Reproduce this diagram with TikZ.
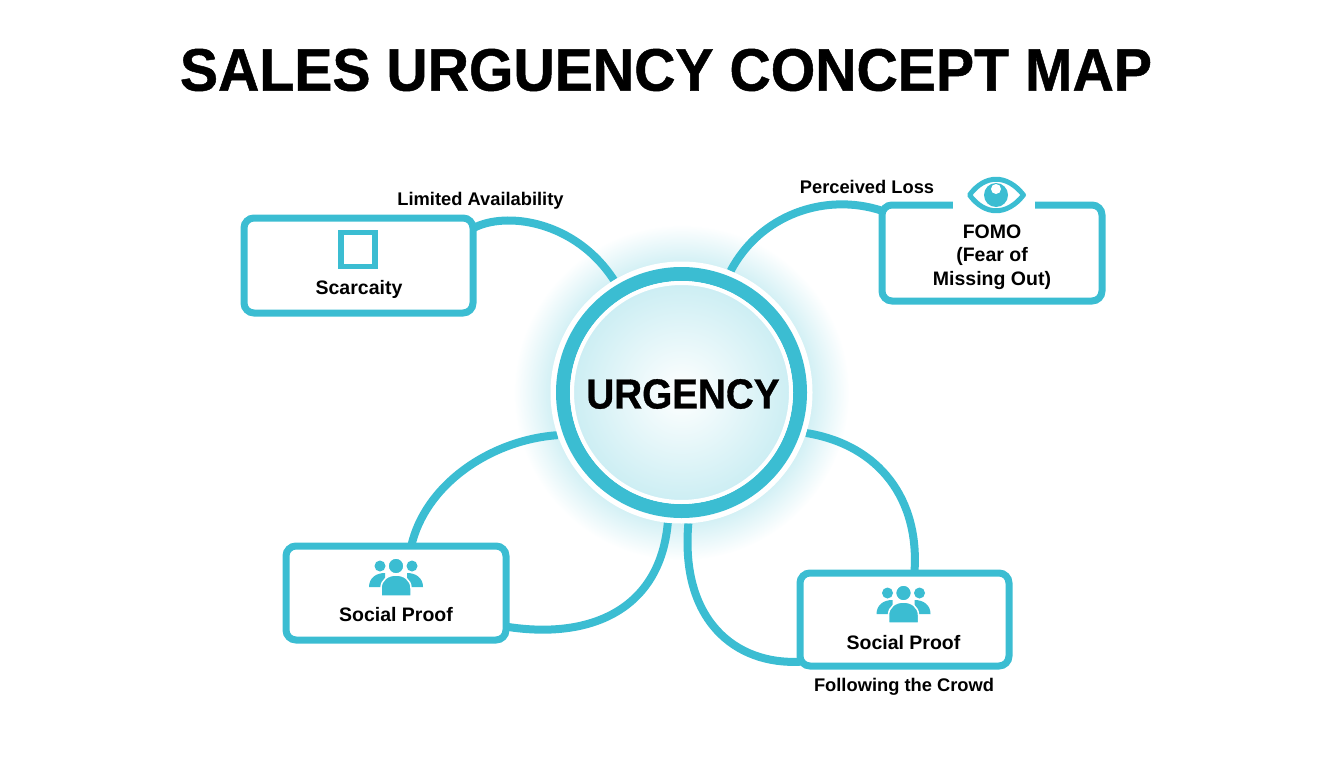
\documentclass[tikz,border=0pt]{standalone}
\usepackage{fontspec}
\setmainfont{Liberation Sans}
\newfontfamily\titlefont[FakeStretch=0.953,FakeBold=0.8]{Liberation Sans Bold}
\newfontfamily\centerfont[FakeStretch=0.92,FakeBold=0.8]{Liberation Sans Bold}
\usetikzlibrary{backgrounds}
\definecolor{urgteal}{HTML}{3BBDD2}
\tikzstyle{conceptbox}=[draw=urgteal,line width=7pt,rounded corners=10pt,fill=white,inner sep=0pt,outer sep=0pt]
\tikzstyle{link}=[draw=urgteal,line width=8pt]
\tikzstyle{boxlabel}=[font=\bfseries\fontsize{19.5}{23.5}\selectfont,align=center,inner sep=0pt]
\tikzstyle{linklabel}=[font=\bfseries\fontsize{18.3}{22}\selectfont,inner sep=0pt]
\tikzset{people/.pic={
    \fill[urgteal] (-16,0) circle (5.5pt);
    \fill[urgteal] (16,0) circle (5.5pt);
    \fill[urgteal] (-27,21) .. controls (-27,12) and (-20,7) .. (-11,7) -- (-11,21) -- cycle;
    \fill[urgteal] (27,21) .. controls (27,12) and (20,7) .. (11,7) -- (11,21) -- cycle;
    \fill[urgteal,draw=white,line width=1.5pt] (0,0) circle (8pt);
    \fill[urgteal,draw=white,line width=1.5pt] (-15,30) -- (-15,22) .. controls (-15,14) and (-8,9) .. (0,9) .. controls (8,9) and (15,14) .. (15,22) -- (15,30) -- cycle;
}}
\begin{document}
\begin{tikzpicture}[x=1pt,y=-1pt]
    \useasboundingbox (0,0) rectangle (1344,768);
    \node[font=\titlefont\fontsize{60}{60}\selectfont,inner sep=0pt] (title) at (666,70) {SALES URGUENCY CONCEPT MAP};

    \node[conceptbox,minimum width=229pt,minimum height=95pt] (scarcity) at (358.5,265.5) {};
    \node[conceptbox,minimum width=220pt,minimum height=96pt] (fomo) at (992,253) {};
    \node[conceptbox,minimum width=220pt,minimum height=94pt] (socialleft) at (396,593) {};
    \node[conceptbox,minimum width=209pt,minimum height=93pt] (socialright) at (904.5,619.5) {};

    \node[circle,fill=white,minimum size=262pt,inner sep=0pt,outer sep=0pt] (halo) at (681.5,392.5) {};
    \node[circle,draw=urgteal,line width=14pt,fill=white,minimum size=237pt,inner sep=0pt,outer sep=0pt] (ring) at (681.5,392.5) {};
    \node[circle,draw=white,line width=4pt,inner color=white,outer color=urgteal!26,minimum size=219pt,inner sep=0pt,outer sep=0pt] (urgency) at (681.5,392.5) {};
    \node[font=\centerfont\fontsize{42}{42}\selectfont,inner sep=0pt] (urgencytext) at (683,394) {URGENCY};

    \begin{scope}[on background layer]
        \node[circle,inner color=urgteal,outer color=white,minimum size=336pt,inner sep=0pt,outer sep=0pt] (glow) at (681.5,392.5) {};
        \draw[link] (scarcity.18) .. controls (505,211) and (575,220) .. (halo.121);
        \draw[link] (halo.68) .. controls (760,215) and (825,192) .. (fomo.159);
        \draw[link] (socialleft.72) .. controls (425,485) and (490,440) .. (halo.199);
        \draw[link] (socialleft.-17) .. controls (590,640) and (660,610) .. (halo.264);
        \draw[link] (halo.273) .. controls (680,620) and (735,665) .. (socialright.202);
        \draw[link] (halo.-18) .. controls (880,445) and (920,500) .. (socialright.78);
    \end{scope}

    \node[draw=urgteal,line width=5.5pt,minimum size=34pt,inner sep=0pt] (scarcityicon) at (358,249.5) {};
    \node[boxlabel] (scarcitytext) at (359,289) {Scarcaity};

    \node[fill=white,minimum width=82pt,minimum height=12pt,inner sep=0pt] (eyegap) at (994,205) {};
    \node[draw=none,minimum size=0pt,inner sep=0pt] (eye) at (996,195) {};
    \draw[urgteal,line width=5pt,line join=round] (969.5,195) .. controls (985,174) and (1007,174) .. (1023.5,195) .. controls (1007,216) and (985,216) .. (969.5,195) -- cycle;
    \fill[urgteal] (eye) circle (12pt);
    \fill[white] (996,189) circle (5pt);
    \node[boxlabel] (fomotext) at (992,257) {FOMO\\(Fear of\\Missing Out)};

    \pic at (396,566) {people};
    \node[boxlabel] (socialtextleft) at (396,615) {Social Proof};
    \pic at (903.5,593) {people};
    \node[boxlabel] (socialtextright) at (903.5,643) {Social Proof};

    \node[linklabel] (availability) at (480.5,201) {Limited Availability};
    \node[linklabel] (loss) at (867,187) {Perceived Loss};
    \node[linklabel] (crowd) at (904,687) {Following the Crowd};
\end{tikzpicture}
\end{document}
